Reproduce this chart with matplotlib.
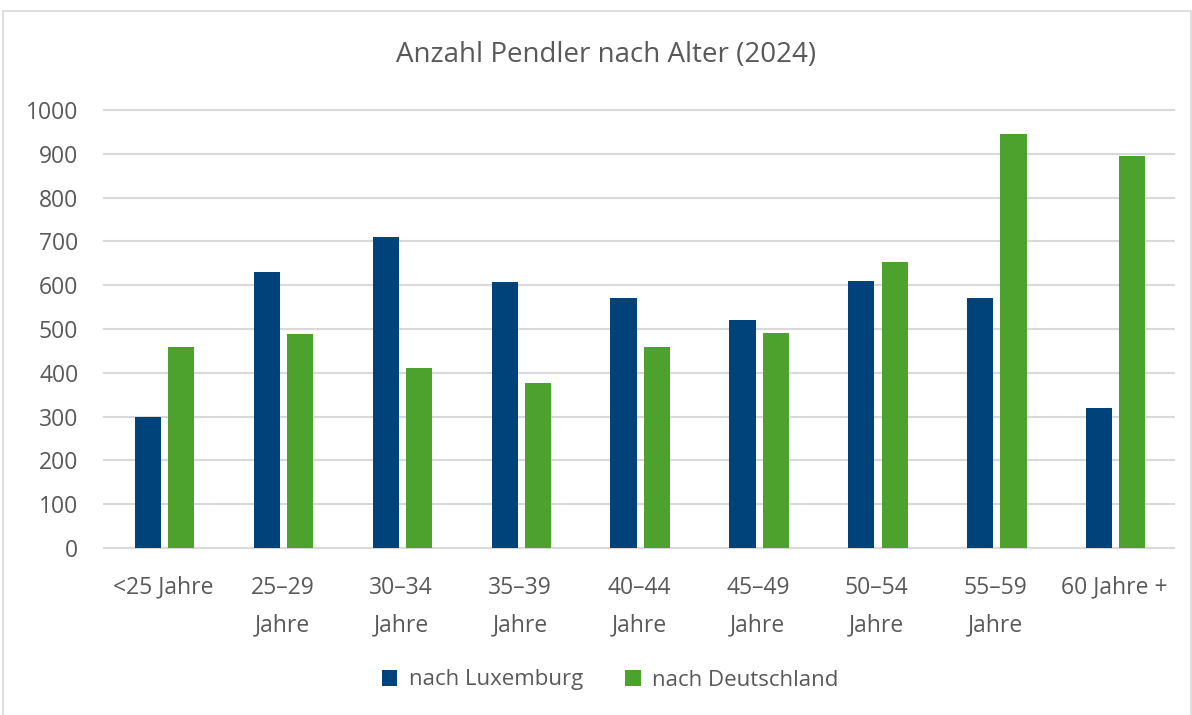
import matplotlib
matplotlib.use("Agg")
import matplotlib.pyplot as plt
import numpy as np
from matplotlib.patches import Rectangle

categories = ["<25 Jahre", "25–29\nJahre", "30–34\nJahre", "35–39\nJahre", "40–44\nJahre",
              "45–49\nJahre", "50–54\nJahre", "55–59\nJahre", "60 Jahre +"]
luxemburg = [300, 630, 710, 608, 570, 520, 609, 570, 319]
deutschland = [459, 489, 410, 376, 458, 492, 654, 945, 894]
series_names = ["nach Luxemburg", "nach Deutschland"]
yticks = [0, 100, 200, 300, 400, 500, 600, 700, 800, 900, 1000]

plt.rcParams['font.family'] = ['Open Sans', 'DejaVu Sans']
text_color = "#595959"
blue = "#00437B"
green = "#4DA22E"

fig = plt.figure(figsize=(11.92, 7.15), dpi=100)
fig.patches.append(Rectangle((3/1192, -0.01), 1188/1192, 1 - 11/715 + 0.01,
                             transform=fig.transFigure, fill=False,
                             edgecolor="#d9d9d9", linewidth=1.2))

ax = fig.add_axes([104/1192, 1 - 548/715, (1174 - 104)/1192, (548 - 110)/715])
x = np.arange(len(categories))
w = 0.22
ax.bar(x - 0.13, luxemburg, width=w, color=blue, label=series_names[0], zorder=3)
ax.bar(x + 0.15, deutschland, width=w, color=green, label=series_names[1], zorder=3)

ax.set_xlim(-0.5, len(categories) - 0.5)
ax.set_ylim(0, 1000)
ax.set_yticks(yticks)
ax.set_yticklabels([str(v) for v in yticks])
for v in yticks:
    ax.axhline(v, color="#d9d9d9", linewidth=1.5, zorder=1, clip_on=False)
ax.set_xticks(x)
ax.set_xticklabels(categories, linespacing=1.75)
ax.tick_params(axis='x', length=0, pad=20, labelsize=16.5, labelcolor=text_color)
ax.tick_params(axis='y', length=0, pad=18.5, labelsize=16.5, labelcolor=text_color)
for s in ax.spines.values():
    s.set_visible(False)

fig.text(606/1192, 1 - 55/715, "Anzahl Pendler nach Alter (2024)", ha="center", va="center",
         fontsize=20, color=text_color)

fig.legend(loc="center", bbox_to_anchor=(610/1192, 1 - 680/715), ncol=2, frameon=False,
           fontsize=16, labelcolor=text_color, handlelength=0.7, handleheight=0.7,
           handletextpad=0.5, columnspacing=1.9)

fig.savefig("out.png", dpi=100)
